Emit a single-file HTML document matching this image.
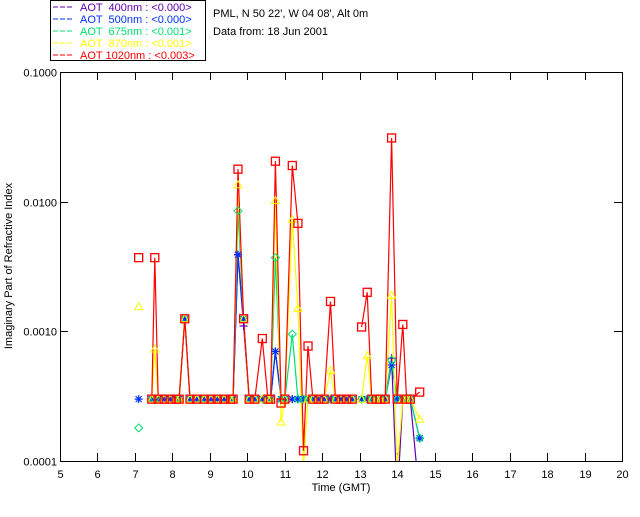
<!DOCTYPE html>
<html><head><meta charset="utf-8"><style>
body{margin:0;background:#fff;width:640px;height:512px;overflow:hidden}
svg text{font-family:"Liberation Sans",sans-serif;font-size:11px}
</style></head><body>
<svg id="c" width="640" height="512" xmlns="http://www.w3.org/2000/svg">
<g>
<rect x="50.5" y="0.5" width="155" height="60" fill="#fff" stroke="#000"/>
<g id="leg"></g>
</g>
<text x="213" y="17">PML, N 50 22', W 04 08', Alt 0m</text>
<text x="213" y="35">Data from: 18 Jun 2001</text>
<defs><clipPath id="pc"><rect x="60" y="72" width="562" height="389"/></clipPath></defs>
<g id="ax"></g>
<g id="series" clip-path="url(#pc)"></g>
<g id="marks" clip-path="url(#pc)"></g>
<text x="12" y="266" transform="rotate(-90 12 266)" text-anchor="middle">Imaginary Part of Refractive Index</text>
<text x="341" y="491" text-anchor="middle">Time (GMT)</text>
</svg>
<script>
const B = 3e-4;
const xTicks = [5,6,7,8,9,10,11,12,13,14,15,16,17,18,19,20];
const yTicks = [0.1,0.01,0.001,0.0001];
const yTickLabels = ["0.1000","0.0100","0.0010","0.0001"];
const legendLabels = ["AOT  400nm : <0.000>","AOT  500nm : <0.000>","AOT  675nm : <0.001>","AOT  870nm : <0.001>","AOT 1020nm : <0.003>"];
const times = [7.1,null,7.45,7.53,7.62,7.78,7.94,8.1,8.18,8.33,8.47,8.65,8.85,9.03,9.2,9.38,9.55,9.62,9.75,9.9,10.05,10.2,10.4,10.55,10.62,10.75,10.9,11.0,11.2,11.35,11.5,11.62,11.75,11.9,12.05,12.22,12.35,12.5,12.65,12.8,null,13.05,13.2,13.32,13.45,13.55,13.68,13.85,14.0,14.15,14.25,14.35,14.6];
const s400 = [null,null,B,B,B,B,B,B,B,1.25e-3,B,B,B,B,B,B,B,B,3.9e-3,1.1e-3,B,B,B,B,B,7e-4,B,B,B,B,B,B,B,B,B,B,B,B,B,B,null,B,B,B,B,B,B,6.2e-4,5e-5,B,B,B,5e-5];
const s500 = [B,null,B,B,B,B,B,B,B,1.25e-3,B,B,B,B,B,B,B,B,3.9e-3,1.25e-3,B,B,B,B,B,7e-4,B,B,B,B,B,B,B,B,B,B,B,B,B,B,null,B,B,B,B,B,B,5.5e-4,B,B,B,B,1.5e-4];
const s675 = [1.8e-4,null,B,B,B,B,B,B,B,1.25e-3,B,B,B,B,B,B,B,B,8.5e-3,1.25e-3,B,B,B,B,B,3.7e-3,B,B,9.5e-4,B,B,B,B,B,B,B,B,B,B,B,null,B,B,B,B,B,B,6e-4,B,B,B,B,1.5e-4];
const s870 = [1.55e-3,null,B,7.3e-4,B,B,B,B,B,1.25e-3,B,B,B,B,B,B,B,B,1.35e-2,1.25e-3,B,B,B,B,B,1.02e-2,2e-4,B,7.3e-3,1.5e-3,9e-5,B,B,B,B,5e-4,B,B,B,B,null,B,6.5e-4,B,B,B,B,1.9e-3,9e-5,B,B,B,2.1e-4];
const s1020 = [3.7e-3,null,B,3.7e-3,B,B,B,B,B,1.25e-3,B,B,B,B,B,B,B,B,1.78e-2,1.25e-3,B,B,8.8e-4,B,B,2.05e-2,2.8e-4,B,1.9e-2,6.8e-3,1.2e-4,7.7e-4,B,B,B,1.7e-3,B,B,B,B,null,1.08e-3,2e-3,B,B,B,B,3.1e-2,B,1.13e-3,B,B,3.4e-4];

const X0=60,X1=622,Y0=72,Y1=461;
const xs=t=>X0+(t-5)/15*(X1-X0);
const ys=v=>Y0+(-1-Math.log10(v))/3*(Y1-Y0);
const NS="http://www.w3.org/2000/svg";
function mk(tag,attrs,parent){const e=document.createElementNS(NS,tag);for(const k in attrs)e.setAttribute(k,attrs[k]);parent.appendChild(e);return e;}
const ax=document.getElementById('ax');
const frame=mk('rect',{x:X0+.5,y:Y0+.5,width:X1-X0,height:Y1-Y0,fill:'none',stroke:'#000'},ax);


xTicks.forEach(t=>{const x=Math.round(xs(t))+.5;
 const g=mk('g',{},ax);
 
 
 mk('line',{x1:x,x2:x,y1:Y1,y2:Y1-8,stroke:'#000'},g);
 mk('line',{x1:x,x2:x,y1:Y0,y2:Y0+8,stroke:'#000'},g);
 const tx=mk('text',{x:x,y:Y1+17,'text-anchor':'middle'},g);tx.textContent=t;});
yTicks.forEach((v,i)=>{const y=Math.round(ys(v))+.5;
 const g=mk('g',{},ax);
 
 
 mk('line',{x1:X0,x2:X0+8,y1:y,y2:y,stroke:'#000'},g);
 mk('line',{x1:X1,x2:X1-8,y1:y,y2:y,stroke:'#000'},g);
 const tx=mk('text',{x:X0-3,y:y+4,'text-anchor':'end'},g);tx.textContent=yTickLabels[i];});
const series=[[s400,'#6000b0','plus'],[s500,'#0030ff','star'],[s675,'#00e070','diamond'],[s870,'#ffff00','triangle'],[s1020,'#ff0000','square']];
const sg=document.getElementById('series'),mg=document.getElementById('marks'),lg=document.getElementById('leg');
series.forEach(([vals,col,shape],si)=>{
 let d='',pen=false;
 times.forEach((t,i)=>{const v=vals[i];if(t===null||v===null){pen=false;return;}
  const nxt=times[i+1],prv=times[i-1];
  const isolated=(i===0);
  if(isolated){pen=false;return;}
  d+=(pen?'L':'M')+xs(t).toFixed(1)+' '+ys(v).toFixed(1);pen=true;});
 const p=mk('path',{d:d,fill:'none',stroke:col,'stroke-width':1.2},sg);
 
 
 times.forEach((t,i)=>{const v=vals[i];if(t===null||v===null)return;
  const x=xs(t),y=ys(v);let m;
  if(shape==='square')m=mk('rect',{x:x-4,y:y-4,width:8,height:8,fill:'none',stroke:col,'stroke-width':1.3},mg);
  else if(shape==='triangle')m=mk('path',{d:`M${x} ${y-4}L${x+4} ${y+3}L${x-4} ${y+3}Z`,fill:'none',stroke:col},mg);
  else if(shape==='diamond')m=mk('path',{d:`M${x} ${y-4}L${x+4} ${y}L${x} ${y+4}L${x-4} ${y}Z`,fill:'none',stroke:col},mg);
  else if(shape==='star')m=mk('path',{d:`M${x-4} ${y}H${x+4}M${x} ${y-4}V${y+4}M${x-3} ${y-3}L${x+3} ${y+3}M${x-3} ${y+3}L${x+3} ${y-3}`,stroke:col,'stroke-width':1.2},mg);
  else m=mk('path',{d:`M${x-4} ${y}H${x+4}M${x} ${y-4}V${y+4}`,stroke:col,'stroke-width':1.2},mg);
  
  });
 const ly=7+si*12;
 const g=mk('g',{},lg);
 
 
 mk('line',{x1:53,x2:74,y1:ly,y2:ly,stroke:col,'stroke-dasharray':'5,2'},g);
 const tx=mk('text',{x:80,y:ly+4,fill:col,'xml:space':'preserve'},g);tx.style.whiteSpace='pre';tx.textContent=legendLabels[si];
});
</script>
</body></html>
